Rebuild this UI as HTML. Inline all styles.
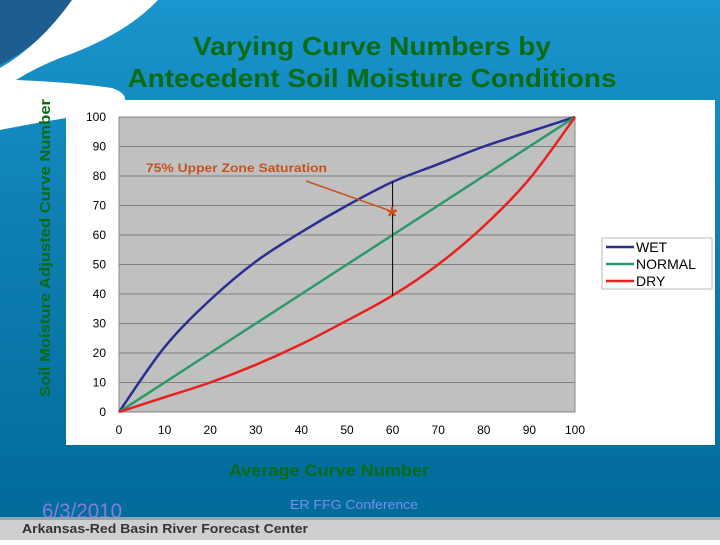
<!DOCTYPE html>
<html><head><meta charset="utf-8"><style>
body{margin:0;width:720px;height:540px;overflow:hidden;font-family:"Liberation Sans",sans-serif}
</style></head><body>
<svg width="720" height="540" xmlns="http://www.w3.org/2000/svg">
<defs><linearGradient id="bg" x1="0" y1="0" x2="0" y2="1"><stop offset="0" stop-color="#1996cd"/><stop offset="0.4" stop-color="#0f7fb4"/><stop offset="1" stop-color="#006a98"/></linearGradient></defs>
<rect width="720" height="540" fill="url(#bg)"/>
<path d="M0 0 L75 0 Q40 45 0 65 Z" fill="#1d5e92"/>
<path d="M72 0 L158 0 Q125 35 60 58 Q35 68 16 80 Q70 82 112 88 Q126 93 125 100 L66 100 L66 118 Q30 124 0 130 L0 68 Q40 45 72 0 Z" fill="#ffffff"/>
<text x="372" y="55" text-anchor="middle" font-size="26" font-weight="bold" fill="#0b6b12" textLength="358" lengthAdjust="spacingAndGlyphs">Varying Curve Numbers by</text>
<text x="372" y="87" text-anchor="middle" font-size="26" font-weight="bold" fill="#0b6b12" textLength="489" lengthAdjust="spacingAndGlyphs">Antecedent Soil Moisture Conditions</text>
<rect x="66" y="100" width="649" height="345" fill="#ffffff"/>
<g id="chart"></g>
<text transform="translate(50,248) rotate(-90)" text-anchor="middle" font-size="15" font-weight="bold" fill="#0b6b12" textLength="298" lengthAdjust="spacingAndGlyphs">Soil Moisture Adjusted Curve Number</text>
<text x="329" y="476" text-anchor="middle" font-size="17" font-weight="bold" fill="#0b6b12" textLength="200" lengthAdjust="spacingAndGlyphs">Average Curve Number</text>
<text x="42" y="518" font-size="21" fill="#8a7ae0" textLength="80" lengthAdjust="spacingAndGlyphs">6/3/2010</text>
<text x="354" y="509" text-anchor="middle" font-size="13" fill="#7a8ef0" textLength="128" lengthAdjust="spacingAndGlyphs">ER FFG Conference</text>
<rect x="0" y="519" width="720" height="21" fill="#cfcfcf"/>
<rect x="0" y="517" width="720" height="3" fill="#8fa4ae"/>
<text x="22" y="533" font-size="13" font-weight="bold" fill="#333" textLength="286" lengthAdjust="spacingAndGlyphs">Arkansas-Red Basin River Forecast Center</text>
</svg>
<script>
const xs=[0,10,20,30,40,50,60,70,80,90,100];
const wet=[0,22,38,51,61,70,78,84,90,95,100];
const normal=[0,10,20,30,40,50,60,70,80,90,100];
const dry=[0,5,10,16,23,31,39.5,50,63,79,100];
const ticks=[0,10,20,30,40,50,60,70,80,90,100];
const seriesNames=["WET","NORMAL","DRY"];
const seriesColors=["#2b2f8f","#2a9a6a","#e8201e"];
const L=119,R=575,T=117,B=412;
const sx=v=>L+(R-L)*v/100, sy=v=>B-(B-T)*v/100;
const g=document.getElementById('chart');const NS='http://www.w3.org/2000/svg';
function mk(t,a){const e=document.createElementNS(NS,t);for(const k in a)e.setAttribute(k,a[k]);g.appendChild(e);return e;}
let e=mk('rect',{x:L,y:T,width:R-L,height:B-T,fill:'#c0c0c0',stroke:'#888'});


ticks.forEach(t=>{
 let l=mk('line',{x1:L,x2:R,y1:sy(t),y2:sy(t),stroke:'#808080','stroke-width':1});
 
 
 let a=mk('text',{x:L-13,y:sy(t)+4,'text-anchor':'end','font-size':12,fill:'#000'});a.textContent=t;
 
 
 let b=mk('text',{x:sx(t),y:B+22,'text-anchor':'middle','font-size':12,fill:'#000'});b.textContent=t;
 
 
});
function smooth(s){
 const p=s.map((v,j)=>[sx(xs[j]),sy(v)]);
 let d='M'+p[0][0]+' '+p[0][1];
 for(let i=0;i<p.length-1;i++){
  const p0=p[Math.max(0,i-1)],p1=p[i],p2=p[i+1],p3=p[Math.min(p.length-1,i+2)];
  const c1=[p1[0]+(p2[0]-p0[0])/6,p1[1]+(p2[1]-p0[1])/6];
  const c2=[p2[0]-(p3[0]-p1[0])/6,p2[1]-(p3[1]-p1[1])/6];
  d+='C'+c1[0]+' '+c1[1]+' '+c2[0]+' '+c2[1]+' '+p2[0]+' '+p2[1];
 }
 return d;
}
[wet,normal,dry].forEach((s,i)=>{
 let p=mk('path',{d:smooth(s),fill:'none',stroke:seriesColors[i],'stroke-width':2.5,'stroke-linejoin':'round'});
 
 
});
let vl=mk('line',{x1:sx(60),x2:sx(60),y1:sy(wet[6]),y2:sy(dry[6]),stroke:'#000','stroke-width':1});


let ar=mk('line',{x1:306,y1:181,x2:388,y2:210,stroke:'#c8501a','stroke-width':1.5});


let st=mk('text',{x:392,y:225,'text-anchor':'middle','font-size':26,'font-weight':'bold',fill:'#d04a1a'});st.textContent='*';


let at=mk('text',{x:146,y:172,'font-size':12,'font-weight':'bold',fill:'#c8501a',textLength:181,lengthAdjust:'spacingAndGlyphs'});at.textContent='75% Upper Zone Saturation';


let lg=mk('rect',{x:602,y:238,width:110,height:51,fill:'#fff',stroke:'#bbb'});


seriesNames.forEach((n,i)=>{
 let y=247+i*17;
 let l=mk('line',{x1:606,x2:634,y1:y,y2:y,stroke:seriesColors[i],'stroke-width':2.5});
 
 
 let t=mk('text',{x:636,y:y+5,'font-size':14,fill:'#000'});t.textContent=n;
 
 
});
</script>
</body></html>
